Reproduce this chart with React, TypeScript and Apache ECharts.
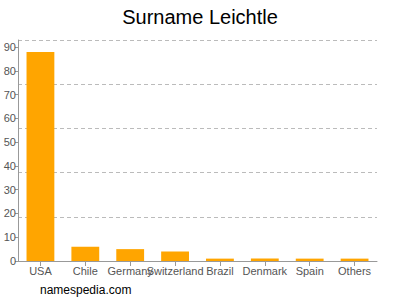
import React, { useEffect, useRef } from "react";
import * as echarts from "echarts";

const categories = ["USA", "Chile", "Germany", "Switzerland", "Brazil", "Denmark", "Spain", "Others"];
const values = [88, 6, 5, 4, 1, 1, 1, 1];
const axisMax = 93;

export default function App() {
  const ref = useRef<HTMLDivElement>(null);
  useEffect(() => {
    const chart = echarts.init(ref.current!, undefined, { renderer: "svg" });
    chart.setOption({
      animation: false,
      title: {
        text: "Surname Leichtle",
        left: "center",
        top: 2,
        textStyle: { fontFamily: "Liberation Sans, Arial, sans-serif", fontSize: 20, fontWeight: "normal", color: "#000" },
      },
      graphic: [
        {
          type: "text",
          left: 40,
          top: 284,
          style: { text: "namespedia.com", fontFamily: "Liberation Sans, Arial, sans-serif", fontSize: 12, fill: "#000" },
        },
      ],
      grid: { left: 18, right: 23, top: 40, bottom: 39, containLabel: false },
      xAxis: {
        type: "category",
        data: categories,
        axisLine: { lineStyle: { color: "#999" } },
        axisTick: { show: true, alignWithLabel: true, lineStyle: { color: "#999" } },
        axisLabel: { interval: 0, color: "#555", fontSize: 11, margin: 4, fontFamily: "Liberation Sans, Arial, sans-serif" },
      },
      yAxis: [
        {
          type: "value",
          min: 0,
          max: axisMax,
          interval: 10,
          axisLine: { show: true, lineStyle: { color: "#999" } },
          axisTick: { show: true, length: 3, lineStyle: { color: "#999" } },
          axisLabel: { color: "#555", fontSize: 11, margin: 2, fontFamily: "Liberation Sans, Arial, sans-serif", showMaxLabel: false },
          splitLine: { show: false },
        },
        {
          type: "value",
          min: 0,
          max: axisMax,
          interval: axisMax / 5,
          position: "left",
          axisLine: { show: false },
          axisTick: { show: false },
          axisLabel: { show: false },
          splitLine: { show: true, lineStyle: { color: "#bbb", type: [4, 3] } },
        },
      ],
      series: [
        {
          type: "bar",
          data: values,
          barCategoryGap: "38%",
          itemStyle: { color: "#ffa500" },
        },
      ],
    });
    return () => chart.dispose();
  }, []);
  return <div ref={ref} style={{ width: 400, height: 300, position: "absolute", left: 0, top: 0 }} />;
}
